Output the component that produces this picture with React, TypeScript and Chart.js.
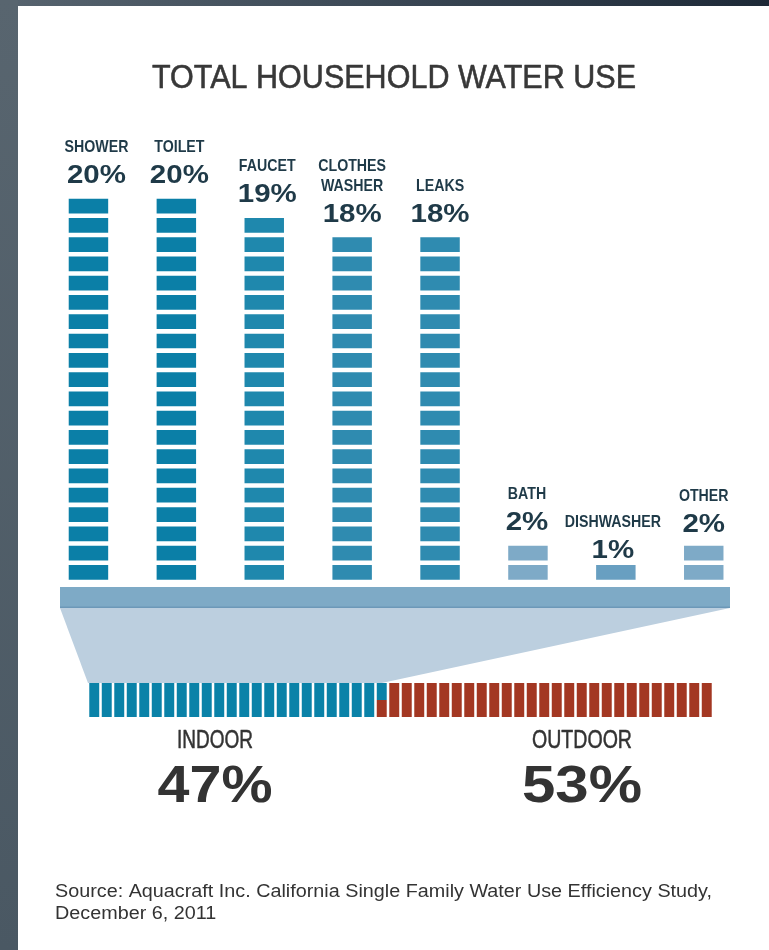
import React, { useEffect, useRef } from "react";
import { Chart, registerables } from "chart.js";

Chart.register(...registerables);

// ---------------- data ----------------
const TITLE = "TOTAL HOUSEHOLD WATER USE";
const categories = [
  ["SHOWER"],
  ["TOILET"],
  ["FAUCET"],
  ["CLOTHES", "WASHER"],
  ["LEAKS"],
  ["BATH"],
  ["DISHWASHER"],
  ["OTHER"],
];
const shares = [20, 20, 19, 18, 18, 2, 1, 2];
const shareLabels = ["20%", "20%", "19%", "18%", "18%", "2%", "1%", "2%"];
const barColors = ["#0b7fa7", "#0b7fa7", "#1f88ad", "#2f8bb0", "#2f8bb0", "#7eaac7", "#689fc1", "#7eaac7"];

const splitNames = ["INDOOR", "OUTDOOR"];
const splitShares = [47, 53];
const splitLabels = ["47%", "53%"];
const splitColors = ["#0a82a8", "#a33722"];

const SOURCE_LINES = [
  "Source: Aquacraft Inc. California Single Family Water Use Efficiency Study,",
  "December 6, 2011",
];
const BLOCK_PCT = 2; // each block of the indoor/outdoor strip stands for 2%

// ---------------- layout ----------------
const W = 769;
const H = 950;
const BAR_TOP = 196.4;
const BAR_BASE = 582;
const BLOCK_BORDER = 2.6;
const BASE = { left: 60, right: 730, top: 587, bottom: 608 };
const STRIP = { left: 88, right: 713, top: 683, bottom: 717 };
const labelNudge = [
  { dx: 8, dy: 0 },
  { dx: 3, dy: 0 },
  { dx: 3, dy: 0 },
  { dx: 0, dy: 0 },
  { dx: 0, dy: 0 },
  { dx: -1, dy: 0 },
  { dx: -3, dy: 9 },
  { dx: 0, dy: 2 },
];
const LABEL_FONT = "700 16.5px 'Liberation Sans', Arial, sans-serif";
const PCT_FONT = "700 25px 'Liberation Sans', Arial, sans-serif";
const TEXT_DARK = "#1f3a48";

function drawText(
  ctx: CanvasRenderingContext2D,
  text: string,
  x: number,
  y: number,
  font: string,
  color: string,
  opts: { width?: number; sx?: number; align?: CanvasTextAlign; stroke?: number } = {}
) {
  ctx.save();
  ctx.font = font;
  ctx.fillStyle = color;
  ctx.strokeStyle = color;
  ctx.textBaseline = "alphabetic";
  ctx.textAlign = opts.align || "center";
  let sx = opts.sx ?? 1;
  if (opts.width) sx = opts.width / ctx.measureText(text).width;
  ctx.translate(x, y);
  ctx.scale(sx, 1);
  ctx.fillText(text, 0, 0);
  if (opts.stroke) {
    ctx.lineWidth = opts.stroke;
    ctx.lineJoin = "round";
    ctx.strokeText(text, 0, 0);
  }
  ctx.restore();
  return sx;
}

const decorPlugin = {
  id: "decor",
  beforeDatasetsDraw(chart: any) {
    const ctx: CanvasRenderingContext2D = chart.ctx;
    ctx.save();
    // funnel from the base bar down to the indoor part of the strip
    const indoorRight = STRIP.left + ((STRIP.right - STRIP.left) * splitShares[0]) / 100;
    ctx.fillStyle = "#bccfdf";
    ctx.beginPath();
    ctx.moveTo(BASE.left, BASE.bottom);
    ctx.lineTo(BASE.right, BASE.bottom);
    ctx.lineTo(indoorRight, STRIP.top);
    ctx.lineTo(STRIP.left, STRIP.top);
    ctx.closePath();
    ctx.fill();
    // base bar
    ctx.fillStyle = "#7eaac6";
    ctx.fillRect(BASE.left, BASE.top, BASE.right - BASE.left, BASE.bottom - BASE.top);
    ctx.fillStyle = "#6c98b8";
    ctx.fillRect(BASE.left, BASE.bottom - 1.5, BASE.right - BASE.left, 1.5);
    ctx.restore();
  },
  afterDatasetsDraw(chart: any) {
    const ctx: CanvasRenderingContext2D = chart.ctx;
    const xs = chart.scales.x;
    const ys = chart.scales.y;
    // title
    drawText(ctx, TITLE, 394, 88, "400 34px 'Liberation Sans', Arial, sans-serif", "#383838", { width: 484, stroke: 0.6 });
    // category labels
    categories.forEach((lines, i) => {
      const x = xs.getPixelForValue(i) + labelNudge[i].dx;
      const top = ys.getPixelForValue(shares[i]) + BLOCK_BORDER;
      const dy = labelNudge[i].dy;
      drawText(ctx, shareLabels[i], x, top - 16 + dy, PCT_FONT, TEXT_DARK, { sx: 1.18 });
      const lastBase = top - 47 + dy;
      lines.forEach((ln, k) => {
        const y = lastBase - (lines.length - 1 - k) * 20;
        drawText(ctx, ln, x, y, LABEL_FONT, TEXT_DARK, { sx: 0.86 });
      });
    });
    // indoor / outdoor
    const centers = [215, 582];
    const pctWidths = [115, 120];
    const nameWidths = [76, 100];
    splitNames.forEach((nm, i) => {
      drawText(ctx, nm, centers[i], 748, "400 25px 'Liberation Sans', Arial, sans-serif", "#333333", { width: nameWidths[i], stroke: 0.5 });
      drawText(ctx, splitLabels[i], centers[i], 802, "700 52px 'Liberation Sans', Arial, sans-serif", "#333333", { width: pctWidths[i] });
    });
    // source
    const sx = drawText(ctx, SOURCE_LINES[0], 55, 897, "400 17.5px 'Liberation Sans', Arial, sans-serif", "#333333", { width: 657, align: "left" });
    drawText(ctx, SOURCE_LINES[1], 55, 919, "400 17.5px 'Liberation Sans', Arial, sans-serif", "#333333", { sx, align: "left" });
  },
};

export default function App() {
  const mainRef = useRef<HTMLCanvasElement>(null);
  const stripRef = useRef<HTMLCanvasElement>(null);

  useEffect(() => {
    const levels = Math.max(...shares);
    const datasets = Array.from({ length: levels }, (_, lvl) => ({
      label: `block ${lvl + 1}`,
      data: shares.map((s) => (s > lvl ? 1 : null)),
      backgroundColor: barColors,
      borderColor: "#ffffff",
      borderWidth: BLOCK_BORDER,
      borderSkipped: false as any,
      barThickness: 44,
      stack: "use",
    }));

    const main = new Chart(mainRef.current!, {
      type: "bar",
      data: { labels: categories.map((c) => c.join(" ")), datasets },
      options: {
        responsive: false,
        animation: false,
        devicePixelRatio: 1,
        events: [],
        layout: { padding: { left: 44.5, right: 21.3, top: BAR_TOP, bottom: H - BAR_BASE } },
        plugins: { legend: { display: false }, tooltip: { enabled: false }, title: { display: false } },
        scales: {
          x: { display: false, stacked: true, offset: true },
          y: { display: false, stacked: true, min: 0, max: levels },
        },
      },
      plugins: [decorPlugin],
    } as any);

    const blockCount = 100 / BLOCK_PCT;
    const blockLabels = Array.from({ length: blockCount }, (_, i) => `${i * BLOCK_PCT}-${(i + 1) * BLOCK_PCT}%`);
    const indoorParts = blockLabels.map((_, i) => {
      const v = Math.min(BLOCK_PCT, Math.max(0, splitShares[0] - i * BLOCK_PCT));
      return v > 0 ? v : null;
    });
    const outdoorParts = indoorParts.map((v) => {
      const o = BLOCK_PCT - (v ?? 0);
      return o > 0 ? o : null;
    });
    const border = { left: 1.6, right: 1.6, top: 0, bottom: 0 };
    const strip = new Chart(stripRef.current!, {
      type: "bar",
      data: {
        labels: blockLabels,
        datasets: [
          { label: splitNames[1], data: outdoorParts, backgroundColor: splitColors[1], borderColor: "#ffffff", borderWidth: border, borderSkipped: false, barPercentage: 1, categoryPercentage: 1, stack: "s" },
          { label: splitNames[0], data: indoorParts, backgroundColor: splitColors[0], borderColor: "#ffffff", borderWidth: border, borderSkipped: false, barPercentage: 1, categoryPercentage: 1, stack: "s" },
        ],
      },
      options: {
        responsive: false,
        animation: false,
        devicePixelRatio: 1,
        events: [],
        layout: { padding: { left: STRIP.left, right: W - STRIP.right, top: 0, bottom: 0 } },
        plugins: { legend: { display: false }, tooltip: { enabled: false } },
        scales: {
          x: { display: false, stacked: true, offset: true },
          y: { display: false, stacked: true, min: 0, max: BLOCK_PCT },
        },
      },
    } as any);

    return () => {
      main.destroy();
      strip.destroy();
    };
  }, []);

  return (
    <div
      style={{
        position: "fixed",
        left: 0,
        top: 0,
        width: W,
        height: H,
        overflow: "hidden",
        background: "linear-gradient(90deg, #57646f 0%, #3e4b58 45%, #1d2937 100%)",
      }}
    >
      <div style={{ position: "absolute", left: 0, top: 0, width: 18, height: H, background: "linear-gradient(180deg, #58656f, #4a5863)" }} />
      <div style={{ position: "absolute", left: 18, top: 6, right: 0, bottom: 0, background: "#ffffff" }} />
      <canvas ref={mainRef} width={W} height={H} style={{ position: "absolute", left: 0, top: 0, width: W, height: H }} />
      <canvas
        ref={stripRef}
        width={W}
        height={STRIP.bottom - STRIP.top}
        style={{ position: "absolute", left: 0, top: STRIP.top, width: W, height: STRIP.bottom - STRIP.top }}
      />
    </div>
  );
}
